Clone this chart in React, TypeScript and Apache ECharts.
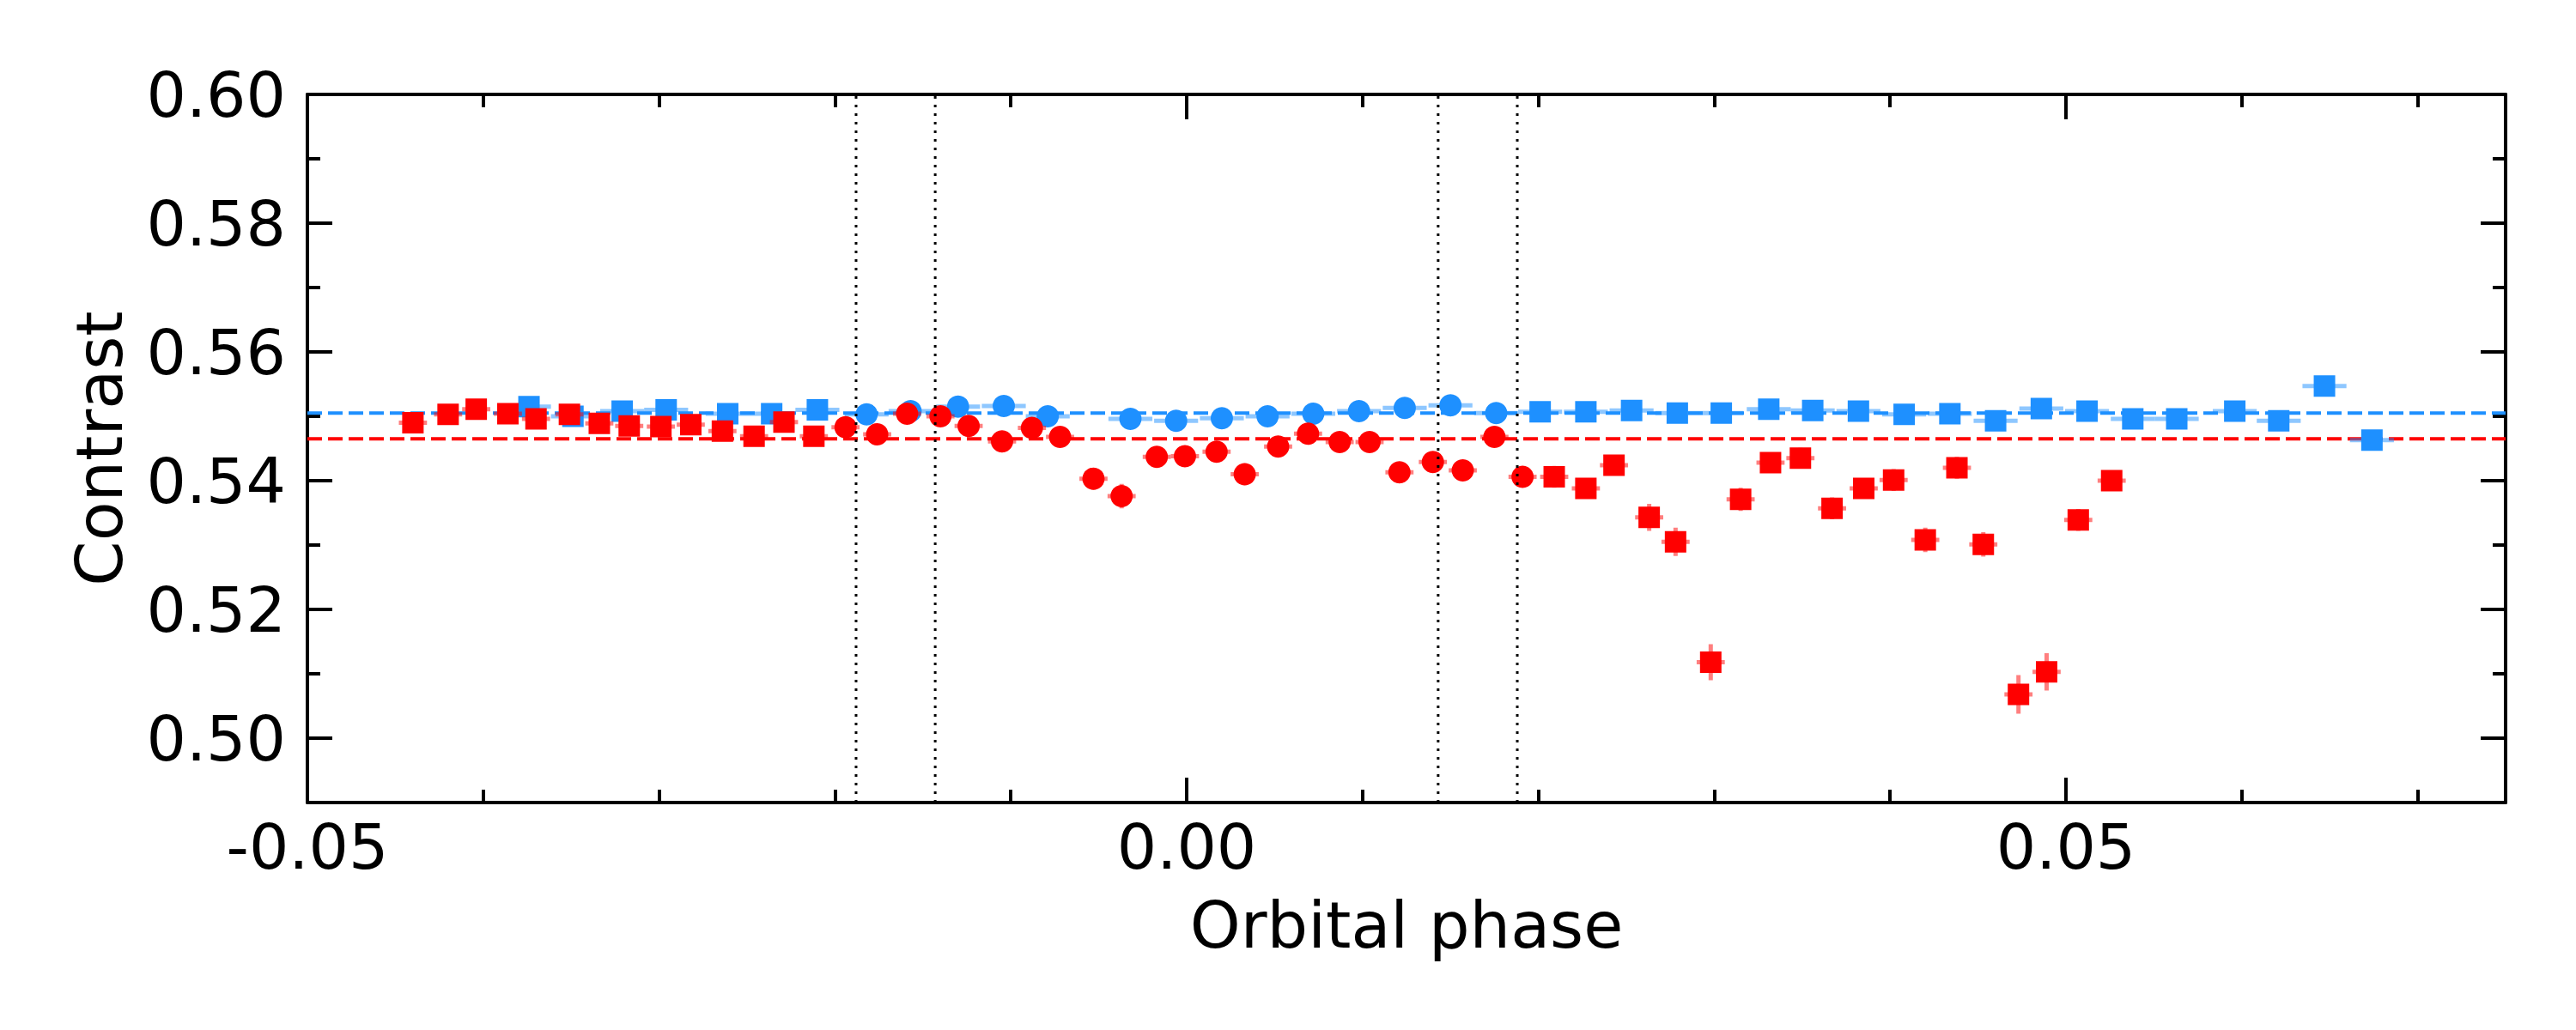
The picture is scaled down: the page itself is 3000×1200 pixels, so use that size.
import React, { useEffect, useRef } from "react";
import * as echarts from "echarts";

// ---------- axis ranges & ticks ----------
const X_MIN = -0.05;
const X_MAX = 0.075;
const Y_MIN = 0.49;
const Y_MAX = 0.6;
const xMajorTicks = [-0.05, 0, 0.05];
const xMinorTicks = [-0.04, -0.03, -0.02, -0.01, 0.01, 0.02, 0.03, 0.04, 0.06, 0.07];
const yMajorTicks = [0.5, 0.52, 0.54, 0.56, 0.58, 0.6];
const yMinorTicks = [0.49, 0.51, 0.53, 0.55, 0.57, 0.59];

// ---------- reference lines ----------
const vLines = [-0.0188, -0.0143, 0.0143, 0.0188];
const blueLevel = 0.5505;
const redLevel = 0.5465;

// ---------- error sizes ----------
const BLUE_XERR = 0.00125;
const BLUE_YERR = 0.0008;
const RED_XERR = 0.0008;

// ---------- red squares, before ingress ----------
const redSqLeftPhase = [-0.044, -0.042, -0.0404, -0.0386, -0.037, -0.0351, -0.0334, -0.0317, -0.0299, -0.0282, -0.0264, -0.0246, -0.0229, -0.0212];
const redSqLeftValue = [0.549, 0.5503, 0.5511, 0.5504, 0.5496, 0.5503, 0.5489, 0.5485, 0.5484, 0.5487, 0.5477, 0.5469, 0.5491, 0.5469];
const redSqLeftErr = [0.0012, 0.0012, 0.0012, 0.0012, 0.0012, 0.0012, 0.0012, 0.0012, 0.0012, 0.0012, 0.0012, 0.0012, 0.0012, 0.0012];

// ---------- red circles, in transit ----------
const redCircPhase = [-0.0194, -0.0176, -0.0159, -0.014, -0.0124, -0.0105, -0.0088, -0.0072, -0.0053, -0.0037, -0.0017, -0.0001, 0.0017, 0.0033, 0.0052, 0.0069, 0.0087, 0.0104, 0.0121, 0.014, 0.0157, 0.0175, 0.0191];
const redCircValue = [0.5483, 0.5472, 0.5504, 0.55, 0.5485, 0.5461, 0.5482, 0.5468, 0.5403, 0.5376, 0.5437, 0.5438, 0.5445, 0.541, 0.5453, 0.5473, 0.546, 0.546, 0.5413, 0.5429, 0.5416, 0.5468, 0.5406];
const redCircErr = [0.0014, 0.0014, 0.0014, 0.0014, 0.0014, 0.0015, 0.0014, 0.0015, 0.0017, 0.0019, 0.0016, 0.0016, 0.0016, 0.0017, 0.0016, 0.0015, 0.0015, 0.0015, 0.0016, 0.0016, 0.0016, 0.0015, 0.0016];

// ---------- red squares, after egress ----------
const redSqRightPhase = [0.0209, 0.0227, 0.0243, 0.0263, 0.0278, 0.0298, 0.0315, 0.0332, 0.0349, 0.0367, 0.0385, 0.0402, 0.042, 0.0438, 0.0453, 0.0473, 0.0489, 0.0507, 0.0526];
const redSqRightValue = [0.5406, 0.5388, 0.5424, 0.5343, 0.5305, 0.5118, 0.5371, 0.5428, 0.5435, 0.5357, 0.5388, 0.5401, 0.5308, 0.542, 0.5301, 0.5068, 0.5103, 0.5339, 0.54];
const redSqRightErr = [0.0017, 0.0016, 0.0016, 0.0021, 0.0022, 0.0028, 0.0018, 0.0016, 0.0016, 0.0017, 0.0016, 0.0017, 0.0019, 0.0017, 0.0019, 0.003, 0.0029, 0.0017, 0.0016];

// ---------- blue squares, before ingress ----------
const blueSqLeftPhase = [-0.0374, -0.0349, -0.0321, -0.0296, -0.0261, -0.0236, -0.021];
const blueSqLeftValue = [0.5515, 0.55, 0.5508, 0.551, 0.5504, 0.5504, 0.551];

// ---------- blue circles, in transit ----------
const blueCircPhase = [-0.0182, -0.0157, -0.013, -0.0104, -0.0079, -0.0032, -0.0006, 0.002, 0.0046, 0.0072, 0.0098, 0.0124, 0.015, 0.0176];
const blueCircValue = [0.5503, 0.5508, 0.5515, 0.5516, 0.55, 0.5496, 0.5493, 0.5497, 0.55, 0.5504, 0.5508, 0.5513, 0.5517, 0.5505];

// ---------- blue squares, after egress ----------
const blueSqRightPhase = [0.0201, 0.0227, 0.0253, 0.0279, 0.0304, 0.0331, 0.0356, 0.0382, 0.0408, 0.0434, 0.046, 0.0486, 0.0512, 0.0538, 0.0563, 0.0596, 0.0621, 0.0647, 0.0674];
const blueSqRightValue = [0.5507, 0.5507, 0.5509, 0.5505, 0.5505, 0.5511, 0.5509, 0.5508, 0.5503, 0.5504, 0.5493, 0.5512, 0.5508, 0.5496, 0.5496, 0.5508, 0.5493, 0.5547, 0.5463];

const BLUE = "#1e90ff";
const BLUE_ERR = "rgba(30,144,255,0.5)";
const RED = "#ff0000";
const RED_ERR = "rgba(255,0,0,0.5)";
const FONT = "DejaVu Sans";

function zip(xs: number[], ys: number[]) {
  return xs.map((x, i) => [x, ys[i]]);
}
function zipErr(xs: number[], ys: number[], xe: number, ye: number[] | number) {
  return xs.map((x, i) => [x, ys[i], xe, Array.isArray(ye) ? ye[i] : ye]);
}

function errSeries(data: number[][], color: string, z: number) {
  return {
    type: "custom",
    z,
    silent: true,
    encode: { x: 0, y: 1 },
    data,
    renderItem: (_params: any, api: any) => {
      const x = api.value(0);
      const y = api.value(1);
      const xe = api.value(2);
      const ye = api.value(3);
      const l = api.coord([x - xe, y]);
      const r = api.coord([x + xe, y]);
      const t = api.coord([x, y + ye]);
      const b = api.coord([x, y - ye]);
      return {
        type: "group",
        children: [
          { type: "line", shape: { x1: l[0], y1: l[1], x2: r[0], y2: r[1] }, style: { stroke: color, lineWidth: 5 } },
          { type: "line", shape: { x1: t[0], y1: t[1], x2: b[0], y2: b[1] }, style: { stroke: color, lineWidth: 5 } },
        ],
      };
    },
  };
}

function scatterSeries(data: number[][], color: string, symbol: string, size: number, z: number) {
  return {
    type: "scatter",
    z,
    silent: true,
    symbol,
    symbolSize: size,
    itemStyle: { color, opacity: 1 },
    data,
  };
}

function refLine(data: number[][], color: string, width: number, dash: number[], z: number) {
  return {
    type: "line",
    z,
    silent: true,
    showSymbol: false,
    symbol: "none",
    lineStyle: { color, width, type: dash },
    data,
  };
}

const fmt = (v: number) => v.toFixed(2);

function valueAxis(extra: any, min: number, max: number) {
  return {
    type: "value",
    min,
    max,
    splitLine: { show: false },
    ...extra,
  };
}

export default function App() {
  const ref = useRef<HTMLDivElement>(null);
  useEffect(() => {
    if (!ref.current) return;
    const chart = echarts.init(ref.current, undefined, { renderer: "svg" });
    const lineStyle = { color: "#000", width: 4 };
    const majorTick = (vals: number[]) => ({ show: true, inside: true, length: 29, lineStyle, customValues: vals });
    const minorTick = (vals: number[]) => ({ show: true, inside: true, length: 15, lineStyle, customValues: vals });
    const noLine = { show: false };
    const noLabel = { show: false };

    const option: any = {
      animation: false,
      backgroundColor: "#fff",
      grid: { left: 358, right: 82, top: 110, bottom: 265 },
      xAxis: [
        valueAxis(
          {
            position: "bottom",
            axisLine: { show: true, onZero: false, lineStyle },
            axisTick: majorTick(xMajorTicks),
            axisLabel: { customValues: xMajorTicks, formatter: fmt, fontSize: 73, color: "#000", fontFamily: FONT, margin: 15 },
            name: "Orbital phase",
            nameLocation: "middle",
            nameGap: 105,
            nameTextStyle: { fontSize: 75, color: "#000", fontFamily: FONT },
          },
          X_MIN,
          X_MAX
        ),
        valueAxis({ position: "bottom", axisLine: { ...noLine, onZero: false }, axisTick: minorTick(xMinorTicks), axisLabel: noLabel }, X_MIN, X_MAX),
        valueAxis({ position: "top", axisLine: { show: true, onZero: false, lineStyle }, axisTick: majorTick(xMajorTicks), axisLabel: noLabel }, X_MIN, X_MAX),
        valueAxis({ position: "top", axisLine: { ...noLine, onZero: false }, axisTick: minorTick(xMinorTicks), axisLabel: noLabel }, X_MIN, X_MAX),
      ],
      yAxis: [
        valueAxis(
          {
            position: "left",
            axisLine: { show: true, onZero: false, lineStyle },
            axisTick: majorTick(yMajorTicks),
            axisLabel: { customValues: yMajorTicks, formatter: fmt, fontSize: 73, color: "#000", fontFamily: FONT, margin: 25 },
            name: "Contrast",
            nameLocation: "middle",
            nameGap: 205,
            nameTextStyle: { fontSize: 75, color: "#000", fontFamily: FONT },
          },
          Y_MIN,
          Y_MAX
        ),
        valueAxis({ position: "left", axisLine: { ...noLine, onZero: false }, axisTick: minorTick(yMinorTicks), axisLabel: noLabel }, Y_MIN, Y_MAX),
        valueAxis({ position: "right", axisLine: { show: true, onZero: false, lineStyle }, axisTick: majorTick(yMajorTicks), axisLabel: noLabel }, Y_MIN, Y_MAX),
        valueAxis({ position: "right", axisLine: { ...noLine, onZero: false }, axisTick: minorTick(yMinorTicks), axisLabel: noLabel }, Y_MIN, Y_MAX),
      ],
      series: [
        refLine([[X_MIN, blueLevel], [X_MAX, blueLevel]], BLUE, 4, [17, 7], 1),
        refLine([[X_MIN, redLevel], [X_MAX, redLevel]], RED, 4, [17, 7], 1),
        errSeries(zipErr(blueSqLeftPhase, blueSqLeftValue, BLUE_XERR, BLUE_YERR), BLUE_ERR, 2),
        errSeries(zipErr(blueCircPhase, blueCircValue, BLUE_XERR, BLUE_YERR), BLUE_ERR, 2),
        errSeries(zipErr(blueSqRightPhase, blueSqRightValue, BLUE_XERR, BLUE_YERR), BLUE_ERR, 2),
        scatterSeries(zip(blueSqLeftPhase, blueSqLeftValue), BLUE, "rect", 25, 3),
        scatterSeries(zip(blueCircPhase, blueCircValue), BLUE, "circle", 26, 3),
        scatterSeries(zip(blueSqRightPhase, blueSqRightValue), BLUE, "rect", 25, 3),
        errSeries(zipErr(redSqLeftPhase, redSqLeftValue, RED_XERR, redSqLeftErr), RED_ERR, 4),
        errSeries(zipErr(redCircPhase, redCircValue, RED_XERR, redCircErr), RED_ERR, 4),
        errSeries(zipErr(redSqRightPhase, redSqRightValue, RED_XERR, redSqRightErr), RED_ERR, 4),
        scatterSeries(zip(redSqLeftPhase, redSqLeftValue), RED, "rect", 25, 5),
        scatterSeries(zip(redCircPhase, redCircValue), RED, "circle", 26, 5),
        scatterSeries(zip(redSqRightPhase, redSqRightValue), RED, "rect", 25, 5),
        ...vLines.map((v) => refLine([[v, Y_MIN], [v, Y_MAX]], "#000", 3, [3, 7], 6)),
      ],
    };
    chart.setOption(option);
    return () => chart.dispose();
  }, []);
  return <div ref={ref} style={{ position: "fixed", left: 0, top: 0, width: 3000, height: 1200, background: "#fff" }} />;
}
